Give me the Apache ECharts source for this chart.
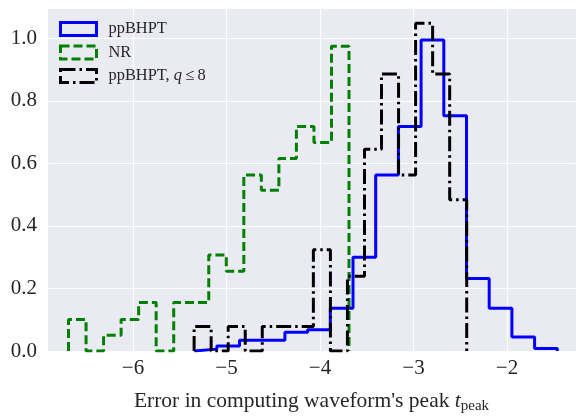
<!DOCTYPE html>
<html>
<head>
<meta charset="utf-8">
<script src="https://cdn.jsdelivr.net/npm/echarts@6/dist/echarts.min.js"></script>
<style>html,body{margin:0;padding:0;background:#fff}#c{width:576px;height:419px}</style>
</head>
<body>
<div id="c"></div>
<script>
// Histogram bin edges (x, log10 error) and normalized heights
var blueEdges = [-5.3465, -5.1037, -4.8609, -4.6182, -4.3754, -4.1326, -3.8898, -3.6470, -3.4043, -3.1615, -2.9187, -2.6759, -2.4331, -2.1904, -1.9476, -1.7048, -1.4620];
var blueValues = [0.006, 0.016, 0.034, 0.034, 0.060, 0.068, 0.137, 0.300, 0.5625, 0.718, 0.995, 0.752, 0.232, 0.137, 0.045, 0.008];

var nrEdges = [-6.6898, -6.5023, -6.3148, -6.1273, -5.9398, -5.7523, -5.5648, -5.3773, -5.1898, -5.0023, -4.8148, -4.6273, -4.4398, -4.2523, -4.0648, -3.8773, -3.6898];
var nrValues = [0.101, 0, 0.050, 0.101, 0.155, 0, 0.155, 0.155, 0.307, 0.255, 0.5625, 0.514, 0.616, 0.718, 0.667, 0.975];

var q8Edges = [-5.3465, -5.1643, -4.9821, -4.7998, -4.6176, -4.4354, -4.2532, -4.0710, -3.8887, -3.7065, -3.5243, -3.3421, -3.1599, -2.9776, -2.7954, -2.6132, -2.4310];
var q8Values = [0.078, 0, 0.078, 0, 0.078, 0.078, 0.078, 0.324, 0, 0.239, 0.645, 0.886, 0.5625, 1.048, 0.886, 0.484];

var seriesNames = ['ppBHPT', 'NR', 'ppBHPT, q≤8'];
var xTicks = [-6, -5, -4, -3, -2];
var yTicks = [0.0, 0.2, 0.4, 0.6, 0.8, 1.0];

function stepPath(edges, vals) {
  var pts = [[edges[0], 0]];
  for (var i = 0; i < vals.length; i++) {
    pts.push([edges[i], vals[i]]);
    pts.push([edges[i + 1], vals[i]]);
  }
  pts.push([edges[edges.length - 1], 0]);
  return pts;
}

var FONT = 'Liberation Serif';
var TXT = '#262626';
var chart = echarts.init(document.getElementById('c'), null, {renderer: 'canvas'});

var dashNR = [9, 4];
var dashQ8 = [15, 4, 2.5, 4];

chart.setOption({
  animation: false,
  backgroundColor: '#ffffff',
  grid: {left: 47, right: 0, top: 8, bottom: 54.5, show: true, backgroundColor: '#EAEAF2', borderWidth: 0, containLabel: false},
  xAxis: {
    type: 'value', min: -6.92, max: -1.262, splitNumber: 5,
    axisLine: {show: false}, axisTick: {show: false},
    splitLine: {show: true, lineStyle: {color: '#ffffff', width: 1.2}},
    axisLabel: {
      show: true, margin: 7, fontFamily: FONT, fontSize: 21, color: TXT,
      showMinLabel: false, showMaxLabel: false,
      formatter: function (v) {
        if (xTicks.indexOf(Math.round(v)) < 0 || Math.abs(v - Math.round(v)) > 1e-6) return '';
        return (v < 0 ? '\u2212' : '') + Math.abs(Math.round(v));
      }
    },
    name: "{n|Error in computing waveform's peak }{t|t}{s|peak}",
    nameLocation: 'middle', nameGap: 38,
    nameTextStyle: {
      fontFamily: FONT, fontSize: 21.5, color: TXT,
      rich: {
        n: {fontFamily: FONT, fontSize: 21.5, color: TXT},
        t: {fontFamily: FONT, fontSize: 21.5, color: TXT, fontStyle: 'italic'},
        s: {fontFamily: FONT, fontSize: 15, color: TXT, padding: [10, 0, 0, 0]}
      }
    }
  },
  yAxis: {
    type: 'value', min: 0, max: 1.097, interval: 0.2,
    axisLine: {show: false}, axisTick: {show: false},
    splitLine: {show: true, lineStyle: {color: '#ffffff', width: 1.2}},
    axisLabel: {
      margin: 10, fontFamily: FONT, fontSize: 21, color: TXT, showMaxLabel: false,
      formatter: function (v) { return v.toFixed(1); }
    }
  },
  legend: {
    orient: 'vertical', left: 54, top: 15, itemWidth: 36, itemHeight: 13, itemGap: 5.5,
    textStyle: {
      fontFamily: FONT, fontSize: 16.4, color: TXT, lineHeight: 18, padding: [0, 0, 0, 7],
      rich: {
        n: {fontFamily: FONT, fontSize: 16.4, color: TXT},
        q: {fontFamily: FONT, fontSize: 16.4, color: TXT, fontStyle: 'italic'}
      }
    },
    formatter: function (name) {
      if (name === seriesNames[2]) return '{n|ppBHPT, }{q|q}{n|\u2009\u2264\u20098}';
      return '{n|' + name + '}';
    },
    data: [
      {name: seriesNames[0], icon: 'rect', itemStyle: {color: 'transparent', borderColor: '#0000ff', borderWidth: 3, borderType: 'solid'}},
      {name: seriesNames[1], icon: 'rect', itemStyle: {color: 'transparent', borderColor: '#008000', borderWidth: 3, borderType: dashNR}},
      {name: seriesNames[2], icon: 'rect', itemStyle: {color: 'transparent', borderColor: '#000000', borderWidth: 3, borderType: dashQ8}}
    ]
  },
  series: [
    {name: seriesNames[0], type: 'line', data: stepPath(blueEdges, blueValues), showSymbol: false, symbol: 'none',
     lineStyle: {color: '#0000ff', width: 3}, itemStyle: {color: '#0000ff'}, z: 2},
    {name: seriesNames[1], type: 'line', data: stepPath(nrEdges, nrValues), showSymbol: false, symbol: 'none',
     lineStyle: {color: '#008000', width: 3, type: dashNR}, itemStyle: {color: '#008000'}, z: 3},
    {name: seriesNames[2], type: 'line', data: stepPath(q8Edges, q8Values), showSymbol: false, symbol: 'none',
     lineStyle: {color: '#000000', width: 3, type: dashQ8}, itemStyle: {color: '#000000'}, z: 4}
  ]
});
</script>
</body>
</html>
